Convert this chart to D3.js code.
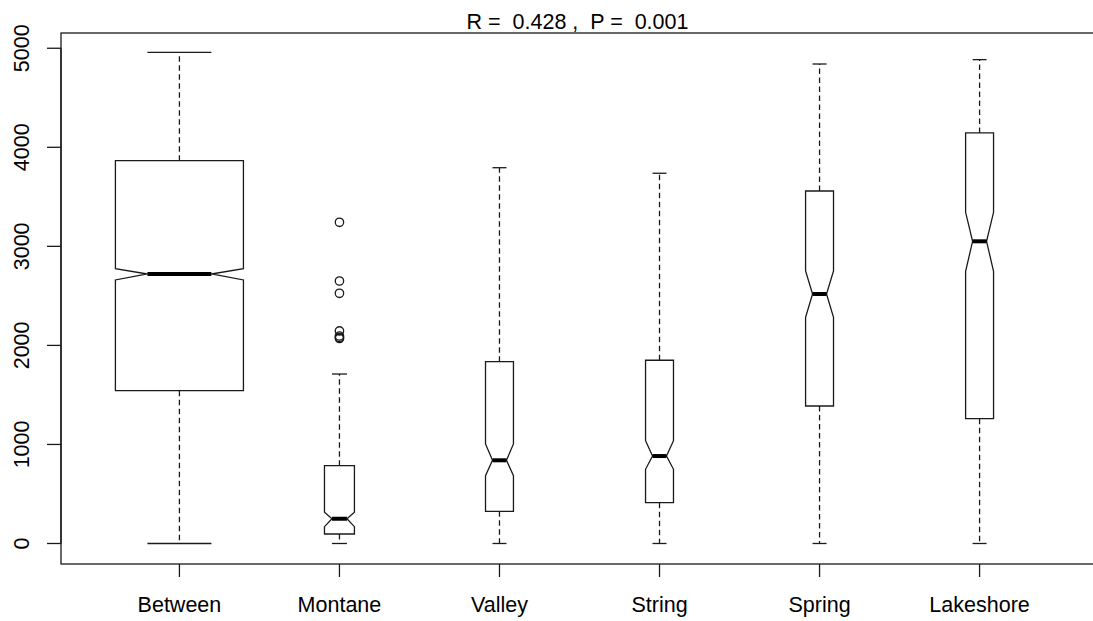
<!DOCTYPE html>
<html>
<head>
<meta charset="utf-8">
<script src="https://cdn.jsdelivr.net/npm/d3@7"></script>
<style>
  body { margin: 0; background: #fff; }
  svg text { font-family: "Liberation Sans", Arial, sans-serif; fill: #000; }
</style>
</head>
<body>
<svg id="chart" width="1093" height="621"></svg>
<script>
// group names, in plot order
var groups = ["Between", "Montane", "Valley", "String", "Spring", "Lakeshore"];

// five-number summaries
var whiskerLow  = [0, 0, 0, 0, 0, 0];
var q1          = [1543, 96, 325, 412, 1388, 1260];
var median      = [2721, 250, 840, 883, 2519, 3051];
var q3          = [3865, 786, 1836, 1850, 3559, 4145];
var whiskerHigh = [4958, 1711, 3794, 3738, 4841, 4885];

// notch limits (median confidence interval)
var notchLow  = [2661, 170, 685, 749, 2284, 2748];
var notchHigh = [2775, 315, 1005, 1038, 2751, 3344];

// approximate group sizes (box width ~ sqrt(n), varwidth)
var groupN = [4200, 230, 200, 200, 200, 200];

// outliers, Montane only
var outliers = [
  {g: "Montane", v: 3243}, {g: "Montane", v: 2650}, {g: "Montane", v: 2526},
  {g: "Montane", v: 2146}, {g: "Montane", v: 2095}, {g: "Montane", v: 2080},
  {g: "Montane", v: 2070}
];

var yTicks = [0, 1000, 2000, 3000, 4000, 5000];
var title = "R =  0.428 ,  P =  0.001";

var svg = d3.select("#chart");

// group index is 1..6, R style limits with 4% padding
var x = d3.scaleLinear().domain([0.26, 6.74]).range([61, 1098]);
var y = d3.scaleLinear().domain([-207, 5154]).range([564, 33]);

var data = groups.map(function(g, i) {
  return {
    name: g, pos: i + 1,
    lo: whiskerLow[i], q1: q1[i], med: median[i], q3: q3[i], hi: whiskerHigh[i],
    nlo: notchLow[i], nhi: notchHigh[i], n: groupN[i]
  };
});
var maxN = d3.max(groupN);
// box width in x units
data.forEach(function(d) { d.w = 0.8 * Math.sqrt(d.n / maxN); });

var fs = "21.5px";
var lineCol = "#1a1a1a";

// plot frame (right side falls outside the picture)
svg.append("rect")
  .attr("x", x(0.26)).attr("y", y(5154))
  .attr("width", x(6.74) - x(0.26)).attr("height", y(-207) - y(5154))
  .attr("fill", "none").attr("stroke", lineCol).attr("stroke-width", 1.3);

// y axis
var yAxis = svg.append("g").attr("transform", "translate(" + x(0.26) + ",0)");
yAxis.append("line")
  .attr("x1", 0).attr("x2", 0)
  .attr("y1", y(0)).attr("y2", y(5000))
  .attr("stroke", lineCol).attr("stroke-width", 1.3);
yAxis.selectAll(".tick").data(yTicks).enter().append("line")
  .attr("x1", -14).attr("x2", 0)
  .attr("y1", function(d) { return y(d); }).attr("y2", function(d) { return y(d); })
  .attr("stroke", lineCol).attr("stroke-width", 1.3);
yAxis.selectAll(".lab").data(yTicks).enter().append("text")
  .attr("transform", function(d) { return "translate(-32," + y(d) + ") rotate(-90)"; })
  .attr("text-anchor", "middle")
  .style("font-size", fs)
  .text(function(d) { return d; });

// x axis ticks and labels
var xAxis = svg.append("g").attr("transform", "translate(0," + y(-207) + ")");
xAxis.selectAll(".tick").data(data).enter().append("line")
  .attr("x1", function(d) { return x(d.pos); }).attr("x2", function(d) { return x(d.pos); })
  .attr("y1", 0).attr("y2", 13)
  .attr("stroke", lineCol).attr("stroke-width", 1.3);
xAxis.selectAll(".lab").data(data).enter().append("text")
  .attr("x", function(d) { return x(d.pos); })
  .attr("y", 48)
  .attr("text-anchor", "middle")
  .style("font-size", fs)
  .text(function(d) { return d.name; });

// boxes
var box = svg.append("g").selectAll("g").data(data).enter().append("g");

// whiskers
box.append("line")
  .attr("x1", function(d) { return x(d.pos); }).attr("x2", function(d) { return x(d.pos); })
  .attr("y1", function(d) { return y(d.q3); }).attr("y2", function(d) { return y(d.hi); })
  .attr("stroke", lineCol).attr("stroke-width", 1.3).attr("stroke-dasharray", "5.5,3.5");
box.append("line")
  .attr("x1", function(d) { return x(d.pos); }).attr("x2", function(d) { return x(d.pos); })
  .attr("y1", function(d) { return y(d.q1); }).attr("y2", function(d) { return y(d.lo); })
  .attr("stroke", lineCol).attr("stroke-width", 1.3).attr("stroke-dasharray", "5.5,3.5");

// staples
["hi", "lo"].forEach(function(k) {
  box.append("line")
    .attr("x1", function(d) { return x(d.pos - d.w / 4); })
    .attr("x2", function(d) { return x(d.pos + d.w / 4); })
    .attr("y1", function(d) { return y(d[k]); }).attr("y2", function(d) { return y(d[k]); })
    .attr("stroke", lineCol).attr("stroke-width", 1.3);
});

// notched box outline
box.append("path")
  .attr("d", function(d) {
    var fx = [-0.5, 0.5, 0.5, 0.25, 0.5, 0.5, -0.5, -0.5, -0.25, -0.5];
    var fy = [d.q1, d.q1, d.nlo, d.med, d.nhi, d.q3, d.q3, d.nhi, d.med, d.nlo];
    var pts = fx.map(function(f, i) { return [x(d.pos + f * d.w), y(fy[i])]; });
    return d3.line()(pts) + "Z";
  })
  .attr("fill", "#fff").attr("stroke", lineCol).attr("stroke-width", 1.3)
  .attr("stroke-linejoin", "miter");

// median
box.append("line")
  .attr("x1", function(d) { return x(d.pos - d.w / 4); })
  .attr("x2", function(d) { return x(d.pos + d.w / 4); })
  .attr("y1", function(d) { return y(d.med); }).attr("y2", function(d) { return y(d.med); })
  .attr("stroke", "#000").attr("stroke-width", 4);

// outliers
svg.append("g").selectAll("circle").data(outliers).enter().append("circle")
  .attr("cx", function(d) { return x(groups.indexOf(d.g) + 1); })
  .attr("cy", function(d) { return y(d.v); })
  .attr("r", 4.2)
  .attr("fill", "none").attr("stroke", lineCol).attr("stroke-width", 1.3);

// title
svg.append("text")
  .attr("x", (x(0.26) + x(6.74)) / 2 - 2)
  .attr("y", 28.5)
  .attr("text-anchor", "middle")
  .style("font-size", fs)
  .style("white-space", "pre")
  .text(title);
</script>
</body>
</html>
